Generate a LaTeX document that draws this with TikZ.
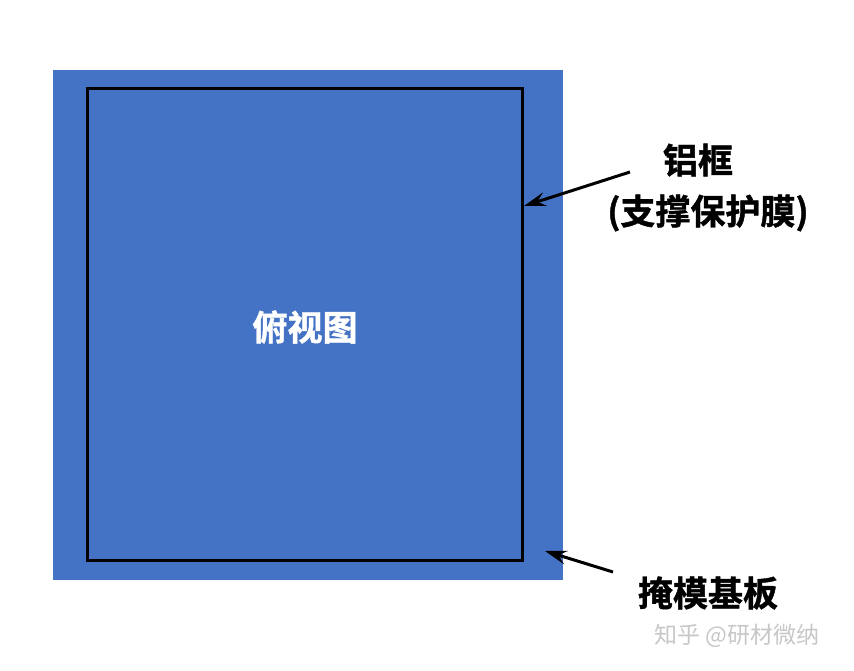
\documentclass[tikz,border=0pt]{standalone}
\usepackage{fontspec}
\newfontfamily\cjk{Noto Sans CJK SC}[BoldFont={Noto Sans CJK SC Bold},BoldFeatures={FakeBold=1.2}]
\usetikzlibrary{arrows.meta}
\definecolor{maskblue}{RGB}{68,114,196}

\begin{document}
\begin{tikzpicture}[x=1pt,y=-1pt,
    lbl/.style={font=\cjk\bfseries\fontsize{35}{38}\selectfont,inner sep=0pt},
    pointer/.style={line width=3pt,-{Stealth[length=22pt,width=14pt,inset=8pt]}}]
    \useasboundingbox (0,0) rectangle (854,671);

    \fill[maskblue](53,70)rectangle(563,580);
    \draw[line width=3pt](87,89)rectangle(522,560);
    \node[lbl,text=white]at(305,327){俯视图};

    \node[lbl](frame)at(698,160){铝框};
    \node[lbl](film)at(708,213){(支撑保护膜)};
    \node[lbl](plate)at(708,593){掩模基板};
    \node[font=\cjk\fontsize{23}{26}\selectfont,text=black!22,inner sep=0pt](mark)at(737,636){知乎 @研材微纳};

    \coordinate(frametip)at(524,206);
    \coordinate(platetip)at(545,551);
    \draw[pointer](630,172)--(frametip);
    \draw[pointer](613,572)--(platetip);
\end{tikzpicture}
\end{document}
